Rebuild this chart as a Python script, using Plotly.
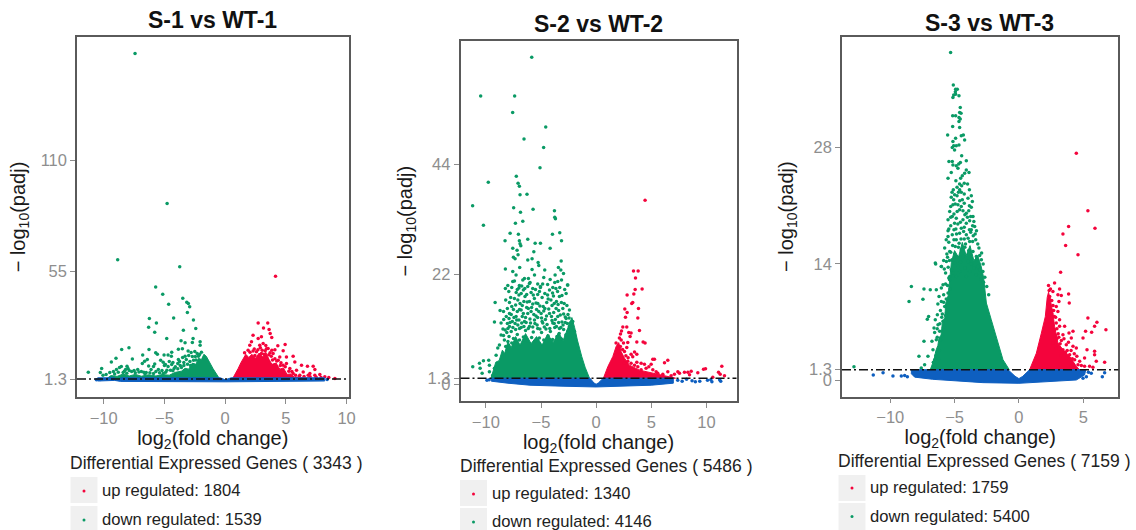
import plotly.graph_objects as go

W, H = 1136, 530
GREEN, RED, BLUE = "#0A9A65", "#F4043C", "#0E5FC0"
FONT = "Liberation Sans"

titles = ["S-1 vs WT-1", "S-2 vs WT-2", "S-3 vs WT-3"]
threshold = 1.3
x_ticks = [[-10, -5, 0, 5, 10], [-10, -5, 0, 5, 10], [-10, -5, 0, 5]]
y_ticks = [[1.3, 55, 110], [0, 1.3, 22, 44], [0, 1.3, 14, 28]]
y_tick_labels = [["1.3", "55", "110"], ["0", "1.3", "22", "44"], ["0", "1.3", "14", "28"]]
x_ranges = [[-12.2, 10.16], [-12.3, 12.73], [-13.75, 7.73]]
y_ranges = [[-7.65, 171.4], [-3.25, 68.5], [-1.95, 41.3]]
total_genes = [3343, 5486, 7159]
up_counts = [1804, 1340, 1759]
down_counts = [1539, 4146, 5400]

# Outlines of the saturated (solid colour) parts of each cloud
s1_down_core = [(-9.8,1.3),(-9.4,3),(-8.9,2.6),(-8.4,3.8),(-7.9,2.8),(-7.4,3.6),(-6.9,2.7),(-6.3,3.4),(-5.7,2.8),(-5.2,3.5),(-4.6,3.2),(-4.1,4.6),(-3.6,5.2),(-3.3,6.6),(-3.0,6.2),(-2.7,9.2),(-2.4,8.6),(-2.2,11.6),(-1.95,11),(-1.75,13.6),(-1.55,12.6),(-1.3,9.6),(-1,6.5),(-0.45,1.3)]
s1_up_core = [(0.6,1.3),(0.85,3.8),(1.07,6.5),(1.3,9.4),(1.48,11.5),(1.7,13.6),(1.95,12),(2.2,13.6),(2.5,11.6),(2.8,14.2),(3.1,12.2),(3.35,14.6),(3.6,11.2),(3.85,8.6),(4.2,9.2),(4.5,6.2),(4.8,6.8),(5.1,3.6),(5.4,3.8),(5.7,2.2),(6.7,1.9),(7.4,1.3)]
s1_ns_core = [(-10.5,1.9),(-9.1,1.9),(-9.1,0.9),(-8.6,0.9),(-8.6,1.9),(-0.4,1.9),(0,0.9),(0.5,1.9),(8.2,1.9),(8.2,0.3),(0,-0.1),(-8.6,0.1),(-9.1,0.6),(-10.5,0.3)]
s2_down_core = [(-9.53,1.3),(-9.1,4.5),(-8.8,4.8),(-8.5,6.9),(-8.3,6.2),(-8,8.6),(-7.7,7.4),(-7.3,9.6),(-6.9,7.9),(-6.4,10.2),(-5.9,8.2),(-5.4,9.6),(-4.9,7.9),(-4.4,10.1),(-3.9,8.4),(-3.4,10.4),(-3,8.8),(-2.6,11.2),(-2.2,13.4),(-1.95,11.4),(-1.7,8.9),(-1.3,5.6),(-1,3.5),(-0.6,1.3)]
s2_up_core = [(0.66,1.3),(1.06,3.6),(1.51,5.6),(1.81,7.6),(2.05,8.4),(2.27,6.6),(2.57,5.3),(3.02,3.9),(3.93,2.9),(5.14,2.3),(6.35,1.6),(7.2,1.3)]
s2_ns_core = [(-9.5,1.3),(-0.55,1.3),(-0.2,0.35),(0,0.1),(0.2,0.35),(0.65,1.3),(7,1.3),(7,0.3),(5,-0.1),(3,-0.3),(0,-0.45),(-3,-0.3),(-6,-0.1),(-8,0.3),(-9.5,0.7)]
s3_down_core = [(-6.89,1.3),(-6.6,2.5),(-6.45,3.6),(-6.3,4.2),(-6.2,5.2),(-6.05,5.4),(-5.95,7),(-5.75,7.6),(-5.7,9.2),(-5.5,10.2),(-5.35,12.6),(-5.25,14.2),(-5,15.6),(-4.7,14.8),(-4.4,16.6),(-4.1,15),(-3.8,16.2),(-3.5,14.4),(-3.2,15),(-2.95,13.8),(-2.75,12.4),(-2.53,9.3),(-2.15,7.3),(-1.63,4.5),(-1.24,2.5),(-0.75,1.3)]
s3_up_core = [(0.83,1.3),(1.35,3.26),(1.74,5.67),(2.05,7.67),(2.2,10),(2.3,10.6),(2.45,9.6),(2.64,8.1),(2.77,6.5),(3.03,4.5),(3.42,3.7),(3.94,2.9),(4.46,1.7),(4.7,1.3)]
s3_ns_core = [(-8.36,1.3),(-0.85,1.3),(-0.3,0.5),(0,0.22),(0.3,0.5),(0.83,1.3),(5.2,1.3),(5.1,0.66),(4.46,0.06),(2.4,-0.14),(0,-0.34),(-2.8,-0.26),(-6.7,0.14),(-8.1,0.4),(-8.36,0.8)]

# Individually visible points
s1_down_points = [(-7.42,163.2),(-4.78,88.6),(-8.85,60.6),(-3.74,57.1),(-5.72,47.1),(-5.14,43.5),(-3.49,41.5),(-3.16,39.5),(-3.03,38.8),(-2.92,37.2),(-3.11,34.4),(-4.65,38.5),(-4.24,31.7),(-2.61,30.6),(-6.24,31.4),(-5.66,29.2),(-6.3,27.1),(-5.8,24.6),(-3.44,25.6),(-2.42,26.4),(-4.81,21.4),(-2.64,21.4),(-3.63,20.3),(-3.3,19.3),(-2.06,19.8),(-2.06,18.1),(-2.7,19.4),(-8.52,16),(-7.92,16.8),(-6.27,16),(-6.79,13.3),(-5.72,14.3),(-5.58,13.6),(-5.03,13.3),(-4.7,13.3),(-4.4,14.6),(-4.43,12.6),(-3.85,16.1),(-3.52,16.3),(-8.99,11.6),(-9.37,9.8),(-7.64,11.2),(-6.41,11),(-6.63,10.1),(-6.82,9),(-5.31,10.6),(-4.92,8.5),(-11.27,4.7),(-10.17,6.5),(-10.28,4.5),(-10.06,3.2),(-8.08,7.7),(-8,6.5),(-9.8,3.5),(-9.5,4.5),(-9.2,5),(-8.95,6),(-8.7,7),(-8.55,7.5),(-8.2,6),(-7.9,5.5),(-7.5,5.5),(-7.2,6),(-6.9,5),(-6.5,4.5),(-6.1,6),(-5.9,7.5),(-5.5,6),(-5.2,5.5),(-5,8),(-4.7,7.5),(-4.4,8.5),(-4.2,6.5),(-3.9,9),(-3.7,8),(-3.5,12),(-3.2,11),(-3,13),(-2.7,12.5),(-2.5,15),(-2.3,14),(-2.1,13.5),(-3.4,9.5),(-2.9,10),(-2.8,14.5),(-3.85,11),(-4.3,9.5),(-3.05,15.2),(-2.45,12.5),(-1.95,14.6),(-7.7,5),(-8.4,4.5),(-6.7,4.6),(-5.7,5),(-4.9,4.6),(-4.5,5.6),
(-9.1,3.8),(-8.8,4.6),(-8.3,5.2),(-8.1,4.2),(-7.4,4.4),(-7.1,4.8),(-6.6,3.8),(-6.2,4.4),(-5.9,4),(-5.4,4.4),(-5.1,4),(-4.8,5.6),(-4.3,5.4),(-4.1,7.4),(-3.9,6.4),(-3.6,7),(-3.4,8),(-3.1,8.6),(-2.85,8),(-2.6,10.6),(-2.4,10.8),(-2.2,12.6),(-3.3,12.6),(-3.75,10),(-4.6,10),(-5.1,9.6),(-5.8,8.8),(-6.3,7.8)]
s1_up_points = [(4.15,52.4),(2.72,29.2),(3.51,29.2),(3.16,26.7),(3.62,25.9),(3.71,23.9),(3.84,21.9),(2.3,23.1),(2.99,22.3),(2.72,21.4),(3.13,18.9),(2.17,19.8),(2.03,18.1),(1.89,15.6),(4.34,17.8),(4.94,18.4),(4.78,15.3),(5.6,12.6),(5.05,12.3),(5.74,9.8),(5.05,9),(6.29,8.2),(7.25,7.7),(6.78,7.7),(7.39,6),(6.98,4),(7.8,3.5),(8.21,2.4),(8.54,2),(9.04,1.5),(2.85,18.1),(3.54,16.5),(2.58,14.8),(2.99,14),(3.95,14),(4.37,10.6),(4.78,8.2),(5.33,6.5),(5.88,5.7),(6.43,4.8),(5.6,4),(6.15,3.2),(6.84,3.2),(7.39,3.2),(3.3,15.4),(3.8,12.6),(4.5,12.2),(2.3,15.2),(3.9,10.8),(4.6,9.4),
(1.6,14.4),(2.05,14.6),(2.45,13),(2.7,15.8),(3.05,15.6),(3.4,16.4),(3.7,14.4),(4.1,11.4),(4.25,10.2),(4.55,8),(4.95,7.4),(5.25,5.2),(5.5,5),(5.8,3.2),(6.1,2.4),(6.5,2.6),(7,2.4),(7.5,2.2),(7.9,2),(3.6,13.4),(3.2,13.6),(2.4,16.2),(2.9,16.8),(3.35,18),(3.85,15.6),(4.1,15.8)]
s1_ns_points = [(-10.6,0.9),(-10.3,1.1),(8.4,1)]

s2_down_points = [(-5.84,65.3),(-10.47,57.6),(-7.39,57.6),(-7.57,54.3),(-4.57,51.4),(-6.54,49),(-4.76,47.3),(-5.09,43.3),(-7.24,41.6),(-9.78,40.4),(-7.08,40.2),(-6.96,39.6),(-6.9,37.9),(-6.27,38),(-11.2,35.7),(-7.48,35.3),(-6.86,34.4),(-5.72,35),(-3.78,34.7),(-3.75,33.4),(-3.69,33.1),(-10.22,31.8),(-7.32,32.2),(-6.65,32.6),(-7.8,30.2),(-7.05,30),(-3.96,30),(-3.3,30.3),(-8.26,28.7),(-6.96,28.7),(-6.9,28.1),(-6.83,27.7),(-6.2,29),(-5.53,28.2),(-5.05,28.2),(-3.14,28.7),(-7.56,27.2),(-7.17,26.8),(-5.65,26.5),(-4.17,27.2),(-7.08,25.9),(-7.5,25.4),(-7.35,25.1),(-6.2,24.9),(-5.81,25.1),(-5.26,24.4),(-5.2,23.8),(-3.17,24.7),(-8.23,23.1),(-7.56,22.6),(-6.93,23.4),(-5.81,23),(-4.66,22.9),(-3.42,23.4),(-3.2,22.9),(-2.96,22.2),(-3.72,21.9),(-5.59,21.9),(-7.26,21.9),(-6.5,21.2),(-6.14,21.2),(-6.65,20.9),(-7.56,20.6),(-6.96,19.8),(-6.05,20.2),(-4.75,21.4),(-4.17,21),(-3.48,20.6),(-3.14,20.9),(-2.6,19.9),(-8.01,19.8),(-5.05,19.4),(-3.93,19.4),(-8.23,19.2),(-6.47,19.2),
(-9.16,16.4),(-8.71,14.8),(-9.22,12.5),(-8.62,12.3),(-8.38,13),(-7.86,16.4),(-7.41,17.2),(-7,17.9),(-6.6,18.9),(-7.92,18.6),(-7.41,20.7),(-5.99,20.4),(-5.14,18.6),(-5.05,19.6),(-4.23,18.9),(-3.87,17.7),(-3.33,17.6),(-2.72,18.2),(-2.57,19.9),(-6.05,16.6),(-5.6,17.2),(-5.29,16.2),(-4.48,16.4),(-3.63,15.2),(-3.02,15.2),(-2.42,14.9),(-6.8,14.9),(-7.86,14.2),(-7.26,13.6),(-6.2,14.2),(-5.9,14.6),(-4.99,14.2),(-4.23,14.2),(-3.48,13.6),(-2.72,13.2),(-2.12,12.6),(-6.5,12.6),(-5.59,12.9),(-4.84,12.3),(-3.93,12.3),(-7.86,11.6),(-7.1,11.9),(-3.33,11.2),(-2.42,11.6),(-1.96,10.6),(-8.77,7.9),(-8.92,7.3),(-8.62,9.9),(-8.32,8.9),(-9.07,5.9),(-11.19,3.6),(-10.58,4.3),(-10.22,4.8),(-9.74,4.9),(-10.52,3.3),(-10.34,2.3),(-9.68,3.9),(-9.68,2.6),(-9.22,3.3),(-9.37,1.9),
(-8.1,10.4),(-7.9,9.6),(-7.7,10.6),(-7.5,9.2),(-7.3,11),(-7.15,10),(-6.95,8.9),(-6.8,11.4),(-6.6,9.5),(-6.4,10.8),(-6.25,8.8),(-6.05,11.6),(-5.85,9.4),(-5.7,10.5),(-5.5,8.7),(-5.3,11.2),(-5.15,9.3),(-4.95,10.4),(-4.75,8.9),(-4.55,11.1),(-4.35,9.7),(-4.15,10.6),(-3.95,9),(-3.75,11.4),(-3.55,9.6),(-3.35,10.2),(-3.15,9.1),(-2.95,11),(-2.75,9.9),(-2.55,10.7),(-2.35,9.5),(-2.15,10.4),(-1.95,9.6),(-8.4,9.8),(-8.2,7.6),(-8.0,8.6),(-7.65,8.3),(-7.0,12.9),(-6.7,13.6),(-6.0,13.1),(-5.3,13.4),(-4.6,13),(-3.7,13),(-3.1,12.5),(-2.6,12.2),(-7.6,12.6),(-8.0,11.2),(-6.3,15.4),(-5.4,15),(-4.8,15.6),(-4.0,15.8),(-6.9,16.2),(-7.5,15),(-6.45,17.6),(-5.9,18.4),(-4.9,17.4),(-3.6,16.6),(-7.0,19.3),(-6.2,19.6),(-5.5,19),(-4.4,20),(-3.75,20.4),
(-8.45,11.1),(-8.25,10.9),(-8.05,12.2),(-7.8,12.4),(-7.55,11.4),(-7.35,12.2),(-7.2,12.9),(-6.95,11.2),(-6.75,12.3),(-6.55,11.6),(-6.35,12.4),(-6.15,11.2),(-5.95,12.3),(-5.75,11.5),(-5.55,12.2),(-5.35,11.9),(-5.1,11.1),(-4.9,12.6),(-4.7,11.5),(-4.45,12),(-4.2,11.2),(-4,12.8),(-3.8,12.2),(-3.6,11.6),(-3.4,12.4),(-3.2,11.4),(-3,11.9),(-2.8,12.4),(-2.45,13.3),(-2.3,12.4),(-7.9,13.2),(-7.7,14),(-7.45,13.4),(-7.15,14.6),(-6.95,15),(-6.6,14.2),(-6.4,13.4),(-6.15,15.2),(-5.85,15.4),(-5.65,14),(-5.45,13.7),(-5.2,14.6),(-4.95,13.3),(-4.75,14.7),(-4.5,13.7),(-4.3,15.1),(-4.05,13.6),(-3.85,14.4),(-3.4,14.8),(-3.25,13.9),(-2.95,14.1),(-2.8,13.5),(-2.55,14),(-8.15,13.6),(-8.05,15.2),(-7.65,15.6),(-7.3,15.9),(-7.1,16.9),(-6.7,15.8),(-6.55,16.6),(-6.25,16.5),(-5.75,16.1),(-5.45,16.3),(-5.1,15.7),(-4.65,15.2),(-4.35,17.1),(-4.1,16.9),(-3.8,16.2),(-3.45,16),(-3.15,16.4),(-2.9,16.2),(-2.65,15.8),(-8.4,14.6),(-8.2,16.9),(-7.75,17.4),(-7.25,18.4),(-6.8,18.2),(-6.3,18),(-5.7,17.9),(-5.3,18),(-4.65,18.2),(-4.4,17.9),(-3.95,18.3),(-3.5,18.6),(-3.1,17.8),(-2.85,19),(-7.65,19.4),(-7.15,19),(-6.75,19.7),(-5.75,19.2),(-5.3,20.1),(-4.85,20.1),(-3.65,19.2),(-3.3,19.4)]
s2_up_points = [(4.44,36.8),(3.39,22.7),(3.81,22.7),(3.57,21.3),(3.54,19),(4.17,19.1),(2.81,17.9),(3.42,18.1),(3.32,16.4),(3.23,16.2),(2.6,15.1),(3.84,15.2),(2.81,14.4),(2.66,13.45),(3.78,13.3),(2.42,11.5),(2.78,11.5),(3.93,10.8),(2.3,10.7),(2.21,10.1),(2.96,10.4),(3.17,10.3),(3.08,9.6),(2.11,9.3),(2.27,8.9),(2.48,8.3),(3.69,8.5),(4.26,8.5),(4.44,8.3),(2.87,8.4),(1.81,8.3),(2.78,7.4),(2.57,6.6),(2.02,6.6),(3.48,6.5),(3.69,6.1),(3.17,6.1),(3.32,5.6),(5.14,5.1),(5.29,5.1),(6.5,4.9),(6.2,4.4),(3.69,4.5),(4.08,4.3),(4.38,4.1),(4.99,4.1),(4.78,3.6),(3.48,3.9),(3.78,3.6),(2.87,4.7),(3.17,4.3),(2.57,4.3),(4.53,3.3),(4.08,3),(5.14,3),(5.44,2.6),(5.59,2.3),(6.5,2.6),(6.05,2.1),(7.41,2.6),(7.56,2.3),(8.01,2.5),(8.32,2.5),(8.62,2.7),(8.47,2),(9.22,2.4),(9.74,3.1),(9.92,3.2),(11.4,3.7),(11.1,2.5),(11.25,2.1),(11.64,1.8),(10.58,1.5),(7.1,2.1),(6.8,1.8),(2.2,7.6),(2.4,7),(2.9,5.4),(2.7,5.8)]
s2_ns_points = [(-9.7,1),(-9.9,0.9),(7.4,0.9),(7.8,0.7),(8.2,1.1),(8.7,0.8),(9,0.6),(9.4,0.7),(10.1,0.9),(10.4,1),(10.5,0.6),(11.2,1),(11.3,0.7)]

s3_down_points = [(-12.82,1.66),(-5.31,39.4),(-5.1,35.5),(-4.92,35),(-4.79,35),(-4.94,34.7),(-5.07,34.3),(-5.13,34),(-4.92,34.4),(-4.66,34.2),(-4.56,32.8),(-4.61,32.2),(-4.5,32.1),(-5.15,31.8),(-4.92,31.8),(-4.66,31.6),(-4.56,31.4),(-4.66,31.1),(-5.15,30.5),(-4.61,30.4),(-5.54,29.5),(-4.48,29.4),(-4.32,29.5),(-4.92,29.1),(-4.22,28.9),(-5.13,28.7),(-5.07,28.2),(-4.87,28.2),(-4.66,28.3),(-5.18,28),(-5,27.7),(-4.45,27),(-4.09,26.4),(-5.44,26.3),(-5.18,26.3),(-5.13,25.9),(-4.55,26.2),(-4.68,26),(-4.87,25.8),(-4.74,25.5),(-4.09,25.3),(-3.88,25),(-5.26,25),(-4.22,24.9),(-4.4,24.6),(-5.51,24.3),(-4.53,24.3),(-3.99,23.6),(-4.61,23.6),(-4.45,23.4),(-4.81,23.2),(-4.61,22.9),(-4.48,22.6),(-5.2,22.6),(-5,22.3),(-4.81,22.2),(-3.7,22.2),(-3.96,21.9),(-5.26,22),(-5.07,21.7),(-4.4,21.7),(-3.62,21.5),(-5.13,21.1),(-4.74,21.1),(-4.48,20.9),(-3.7,20.8),(-5.38,20.3),(-4.61,20.5),(-4.09,20.1),(-3.57,19.7),(-5.18,19.7),(-4.87,19.5),(-5.51,19.3),(-4.35,19.3),(-3.83,19.2),(-5,18.9),(-4.09,18.9),(-3.44,18.5),(-3.7,18.1),(-5.51,18),(-4.48,18.3),(-5.18,17.5),(-4.61,17.7),(-4.09,17.5),(-3.36,16.9),(-5.51,17.3),(-4.87,16.9),(-3.83,16.7),(-3.11,15.9),(-5.77,15.9),(-5.38,15.5),(-4.48,15.7),(-3.57,15.5),(-6.5,14.1),(-6.03,13.7),(-5.64,14.3),(-5,14.1),(-4.74,13.7),(-4.35,14.9),(-3.96,14.3),(-3.31,14.9),(-2.92,14.5),(-3.18,13.7),(-5.26,13.3),(-4.61,13.1),(-3.83,13.1),(-2.8,13.1),(-5.38,12.5),(-4.87,12.5),(-4.09,12.5),(-3.31,12.7),
(-8.36,11.3),(-8.54,9.5),(-7.38,11),(-6.89,10.9),(-7.46,9.75),(-7.02,7.7),(-7.12,7.35),(-6.5,7.3),(-6.34,7.9),(-6.29,6.7),(-7.38,4.7),(-6.76,4.7),(-7.77,2.9),(-7.07,2.9),(-7.33,1.9),(-7.59,1.5),(-6.42,10.9),(-6.03,11.1),(-5.9,11.5),(-6.21,10.1),(-6.03,9.5),(-6.47,14),(-6.03,13.7),(-6.55,5.75),(-6.42,4.9),(-6.68,3.7),(-6.55,2.5),(-6.16,5.9),(-5.9,7.1),(-5.64,8.1),(-5.77,8.9),(-5.51,10.5),(-5.39,12.1),(-5.13,12.9),
(-5.7,12.9),(-5.5,13.6),(-5.2,14.5),(-5.0,15.2),(-4.8,14.8),(-4.55,14.2),(-4.2,13.5),(-3.7,14),(-3.5,13.5),(-3.05,13.3),(-2.65,12.4),(-2.5,11.3),(-2.35,10.3),(-5.85,10.3),(-6.3,9.2),(-6.1,8.4),(-5.95,8),(-6.6,6.3),(-6.35,5.2),(-6.2,3.6),(-5.35,11),(-2.95,12.2),(-2.75,11.8),(-4.95,16.1),(-4.2,16),(-3.9,15.6),(-4.65,16.5),(-5.15,16.2),(-4.25,17),(-3.55,17.4),
(-5.6,15.2),(-5.45,16.6),(-5.3,15.4),(-5.05,16.9),(-4.85,17.6),(-4.7,16),(-4.5,17),(-4.3,17.9),(-4.15,16.4),(-3.95,17.1),(-3.75,17.8),(-3.6,16.7),(-3.4,17.6),(-3.2,16.4),(-3.05,15),(-2.9,15.3),(-2.78,14),(-5.65,16.9),(-5.45,18.2),(-5.3,18.6),(-5.05,18.1),(-4.9,18.2),(-4.75,18.8),(-4.55,19),(-4.25,18.4),(-4,19.6),(-3.85,18.1),(-3.6,18.6),(-3.5,19.1),(-3.3,18),(-5.3,19.6),(-5.05,20),(-4.8,20.3),(-4.35,20.4),(-4.2,19.9),(-3.9,20.4),(-3.75,19.7),(-5.3,20.9),(-4.95,21.2),(-4.6,21.6),(-4.25,21.3),(-3.85,21),(-5.1,22.9),(-4.7,22.6),(-4.25,22.4),(-3.85,22.9),(-4.9,24),(-4.25,23.7),
(-6.15,6.8),(-6,7.6),(-5.85,6.4),(-5.7,7.8),(-6.35,6.2),(-6.45,3),(-6.25,2.6),(-6.65,2.2),(-6.1,4.9),(-5.95,5.4),(-5.85,9.4),(-5.65,9.8),(-5.7,11.6),(-5.55,11.4),(-5.45,12.3),(-5.8,13.4),(-5.85,14.4),(-5.55,14.8),(-5.4,14.4)]
s3_up_points = [(4.46,27.3),(5.36,20.4),(5.91,18.3),(3.86,18.5),(3.42,17.6),(3.63,16.2),(4.59,15.1),(3.24,13),(2.77,11.7),(3.16,11),(3.86,10.4),(3.91,9.3),(2.64,10.7),(3.03,10.3),(3.29,10.2),(2.39,10.1),(3.11,9.5),(2.9,8.9),(3.03,8.3),(5.36,7.5),(6.06,7),(5.88,6.5),(6.76,6.1),(5.65,5.8),(5.18,5.9),(4.98,5.1),(4.2,5.9),(3.89,5.7),(3.55,6.5),(3.42,5.5),(3.16,7.3),(2.9,6.9),(3.16,6.5),(2.77,6.1),(4.07,5.1),(4.2,4.1),(4.46,3.9),(5.29,3.7),(5.88,3.5),(5.88,3.1),(5.1,2.7),(6.01,2.3),(6.66,2.2),(3.68,4.3),(3.42,3.7),(3.94,3.1),(3.68,2.7),(4.33,2.5),(4.72,2.3),(5.1,1.7),(5.49,1.7),(5.75,1.6),(2.64,4.5),(2.9,3.9),(4.59,1.9),(4.07,1.7),(2.5,8.4),(2.65,9),(2.35,10.8),(2.55,8),(2.75,7.7),(3.3,4.8),(3.1,5.2),(3.75,3.6),(4.3,3.2),(3.3,3),(2.95,5),
(2.45,11),(2.3,11.4),(2.55,9.6),(2.7,8.4),(2.85,7.6),(2.95,6.2),(3.05,5.6),(3.2,4.4),(3.5,5),(3.6,3.4),(3.85,4.6),(4.05,3.6),(4.15,2.6),(4.5,2.9),(4.85,1.8),(2.35,9.8),(2.6,7),(2.85,5.4)]
s3_ns_points = [(-11.32,0.66),(-10.56,0.94),(-9.79,0.54),(-9.14,0.54),(-8.88,0.6),(-8.67,0.46),(5.24,0.46),(5.62,0.86),(6.48,0.46),(6.66,0.94),(4.98,0.26),(5.4,1)]

clouds = [
    (s1_ns_core, s1_down_core, s1_up_core, s1_ns_points, s1_down_points, s1_up_points),
    (s2_ns_core, s2_down_core, s2_up_core, s2_ns_points, s2_down_points, s2_up_points),
    (s3_ns_core, s3_down_core, s3_up_core, s3_ns_points, s3_down_points, s3_up_points),
]

# Panel frames and text anchors in page pixels
frames = [(77, 348.5, 37, 397), (460.5, 736.5, 41.3, 401), (842, 1118.4, 36.7, 396.7)]
title_pos = [(212, 20), (598, 24), (989, 23)]
legend_left = [70, 459.5, 838]
legend_title_y = [463, 466, 460.7]
up_y = [491, 494, 488]
down_y = [520, 522, 516.6]
key_boxes = [(477, 503, 506, 530), (480, 506, 508, 530), (475, 501, 503, 530)]


def px(v):
    return v / W


def py(v):
    return 1 - v / H


fig = go.Figure()


def poly(points, color, sub):
    fig.add_trace(go.Scatter(x=[p[0] for p in points] + [points[0][0]],
                             y=[p[1] for p in points] + [points[0][1]],
                             mode="lines", fill="toself", fillcolor=color,
                             line=dict(color=color, width=1), hoverinfo="skip",
                             xaxis=f"x{sub}", yaxis=f"y{sub}"))


def dots(points, color, sub):
    fig.add_trace(go.Scatter(x=[p[0] for p in points], y=[p[1] for p in points],
                             mode="markers", marker=dict(color=color, size=3.5, line=dict(width=0)),
                             xaxis=f"x{sub}", yaxis=f"y{sub}"))


layout = dict(width=W, height=H, margin=dict(l=0, r=0, t=0, b=0, autoexpand=False), showlegend=False,
              plot_bgcolor="white", paper_bgcolor="white", font=dict(family=FONT))
annotations, shapes = [], []
for i, (ns_c, dn_c, up_c, ns_p, dn_p, up_p) in enumerate(clouds):
    s = "" if i == 0 else str(i + 1)
    l, r, t, b = frames[i]
    poly(dn_c, GREEN, s)
    poly(up_c, RED, s)
    dots(dn_p, GREEN, s)
    dots(up_p, RED, s)
    poly(ns_c, BLUE, s)
    dots(ns_p, BLUE, s)
    axis_common = dict(showgrid=False, zeroline=False, showline=True, mirror=True,
                       linecolor="#5a5a5a", linewidth=1.5, ticks="outside", ticklen=5,
                       tickcolor="#8c8c8c", tickwidth=1,
                       tickfont=dict(family=FONT, size=16.5, color="#8e8e8e"))
    layout[f"xaxis{s}"] = dict(axis_common, domain=[px(l), px(r)], range=x_ranges[i],
                               anchor=f"y{s}", tickvals=x_ticks[i],
                               ticktext=[str(v).replace("-", "\u2212") for v in x_ticks[i]],
                               title=dict(text="log<sub>2</sub>(fold change)", standoff=3,
                                          font=dict(family=FONT, size=20, color="#1a1a1a")))
    layout[f"yaxis{s}"] = dict(axis_common, domain=[py(b), py(t)], range=y_ranges[i],
                               anchor=f"x{s}", tickvals=y_ticks[i], ticktext=y_tick_labels[i],
                               title=dict(text="\u2212 log<sub>10</sub>(padj)", standoff=10,
                                          font=dict(family=FONT, size=20, color="#1a1a1a")))
    shapes.append(dict(type="line", xref=f"x{s} domain", x0=0, x1=1, yref=f"y{s}", y0=threshold, y1=threshold,
                       line=dict(color="#111111", width=1.5, dash="9px,3px,2px,3px")))
    tx, ty = title_pos[i]
    annotations.append(dict(text=f"<b>{titles[i]}</b>", x=px(tx), y=py(ty), xref="paper", yref="paper",
                            xanchor="center", yanchor="middle", showarrow=False,
                            font=dict(family=FONT, size=23, color="#111111")))
    left = legend_left[i]
    annotations.append(dict(text=f"Differential Expressed Genes ( {total_genes[i]} )",
                            x=px(left - 2), y=py(legend_title_y[i]), xref="paper", yref="paper",
                            xanchor="left", yanchor="middle", showarrow=False,
                            font=dict(family=FONT, size=17.5, color="#222222")))
    b0, b1, b2, b3 = key_boxes[i]
    for (y0, y1), color, label, yc in (((b0, b1), RED, f"up regulated: {up_counts[i]}", up_y[i]),
                                       ((b2, b3), GREEN, f"down regulated: {down_counts[i]}", down_y[i])):
        shapes.append(dict(type="rect", xref="paper", yref="paper", x0=px(left + 0.5), x1=px(left + 27.5),
                           y0=py(y1), y1=py(y0), fillcolor="#f0f0f0", line=dict(width=0), layer="below"))
        shapes.append(dict(type="circle", xref="paper", yref="paper", x0=px(left + 12.5), x1=px(left + 15.5),
                           y0=py(yc + 1.5), y1=py(yc - 1.5), fillcolor=color, line=dict(width=0)))
        annotations.append(dict(text=label, x=px(left + 30), y=py(yc - 0.5), xref="paper", yref="paper",
                                xanchor="left", yanchor="middle", showarrow=False,
                                font=dict(family=FONT, size=16.6, color="#222222")))

layout["annotations"] = annotations
layout["shapes"] = shapes
fig.update_layout(**layout)
fig.write_html("out.html", config={"displayModeBar": False},
               post_script="document.body.style.margin='0';document.documentElement.style.overflow='hidden';")
